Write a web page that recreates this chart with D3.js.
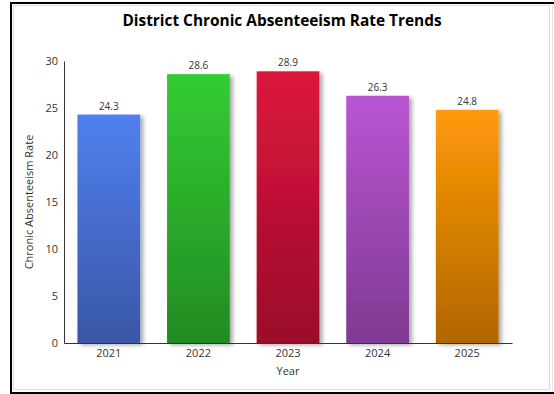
<!DOCTYPE html>
<html><head><meta charset="utf-8">
<script src="https://cdn.jsdelivr.net/npm/d3@7"></script>
<style>
html,body{margin:0;padding:0;background:#fff;overflow:hidden;}
#frame{position:absolute;left:10px;top:2px;width:560px;height:388px;border:2px solid #000;border-right:none;background:#fff;}
#inner{position:absolute;left:13px;top:5px;width:535px;height:383px;border:1px solid #ddd;}
#edge{position:absolute;left:552px;top:5px;width:1px;height:386px;background:#e4e4e4;}
svg{position:absolute;left:0;top:0;}
</style></head><body>
<div id="frame"></div><div id="inner"></div><div id="edge"></div>
<svg id="chart" width="554" height="394"></svg>
<script>
const years = ["2021","2022","2023","2024","2025"];
const rates = [24.3, 28.6, 28.9, 26.3, 24.8];
const topColors = ["#5080EF","#33CC33","#DC143C","#BA55D3","#FF9A08"];
const bottomColors = ["#3A56A6","#228B22","#9A0E2A","#7E3A92","#B06600"];
const yTicks = [0,5,10,15,20,25,30];
const title = "District Chronic Absenteeism Rate Trends";
const xTitle = "Year";
const yTitle = "Chronic Absenteeism Rate";

const svg = d3.select("#chart");
const font = "'Open Sans', 'Noto Sans', sans-serif";
const defs = svg.append("defs");
const filt = defs.append("filter").attr("id","shadow").attr("x","-20%").attr("y","-10%").attr("width","150%").attr("height","130%");
filt.append("feDropShadow").attr("dx",3).attr("dy",2).attr("stdDeviation",2).attr("flood-color","#000").attr("flood-opacity",0.35);
years.forEach((y,i)=>{
  const g = defs.append("linearGradient").attr("id","grad"+i).attr("x1",0).attr("y1",0).attr("x2",0).attr("y2",1);
  g.append("stop").attr("offset","0%").attr("stop-color",topColors[i]);
  g.append("stop").attr("offset","100%").attr("stop-color",bottomColors[i]);
});

const x = d3.scaleBand().domain(years).range([64,512]).paddingInner(0.3).paddingOuter(0.15);
const y = d3.scaleLinear().domain([0,30]).range([343,61]);

svg.append("text").attr("x",282).attr("y",26).attr("text-anchor","middle")
  .style("font-family",font).style("font-weight","bold").style("font-size","15.4px").attr("fill","#000").text(title);

svg.selectAll("rect.bar").data(rates).enter().append("rect").attr("class","bar")
  .attr("x",(d,i)=>x(years[i])).attr("y",d=>y(d)).attr("width",x.bandwidth()).attr("height",d=>y(0)-y(d))
  .attr("fill",(d,i)=>"url(#grad"+i+")").attr("filter","url(#shadow)");

svg.selectAll("text.val").data(rates).enter().append("text").attr("class","val")
  .attr("x",(d,i)=>x(years[i])+x.bandwidth()/2).attr("y",d=>y(d)-5).attr("text-anchor","middle")
  .style("font-family",font).style("font-size","10px").attr("fill","#333").text(d=>d.toFixed(1));

const yAxis = svg.append("g").attr("transform","translate(64,0)")
  .call(d3.axisLeft(y).tickValues(yTicks).tickSize(0).tickPadding(6));
yAxis.select(".domain").attr("stroke","#333");
yAxis.selectAll("text").style("font-family",font).style("font-size","11px").attr("fill","#333");

const xAxis = svg.append("g").attr("transform","translate(0,343)")
  .call(d3.axisBottom(x).tickSize(0).tickPadding(6));
xAxis.select(".domain").attr("stroke","#333");
xAxis.selectAll("text").style("font-family",font).style("font-size","11px").attr("fill","#333");

svg.append("text").attr("x",288).attr("y",375).attr("text-anchor","middle")
  .style("font-family",font).style("font-size","11px").attr("fill","#333").text(xTitle);
svg.append("text").attr("transform","translate(33,202) rotate(-90)").attr("text-anchor","middle")
  .style("font-family",font).style("font-size","11px").attr("fill","#333").text(yTitle);
</script></body></html>
